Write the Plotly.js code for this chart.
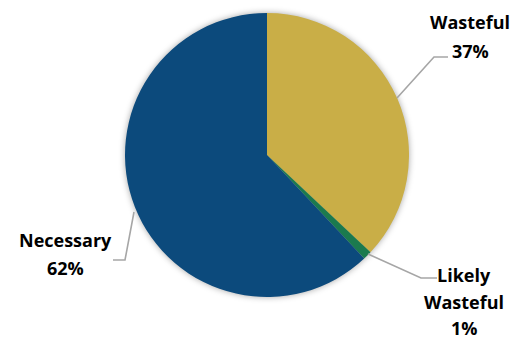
<!DOCTYPE html>
<html>
<head>
<meta charset="utf-8">
<script src="https://cdn.plot.ly/plotly-3.0.1.min.js"></script>
<style>
html,body{margin:0;padding:0;background:#fff;}
#chart{width:526px;height:339px;}
.pielayer{filter:drop-shadow(0px 0px 3px rgba(0,0,0,0.35));}
</style>
</head>
<body>
<div id="chart"></div>
<script>
// Data
const categories = ['Wasteful', 'Likely Wasteful', 'Necessary'];
const values = [37, 1, 62];
const colors = ['#C9AE47', '#1B7A4E', '#0C4A7C'];

// Label layout (pixel positions of the text lines and leader lines)
const labelLayout = [
  {lines: ['Wasteful'], x: 470, y0: 22, gap: 28.5, leader: [[397, 98], [434, 57], [448, 57]]},
  {lines: ['Likely', 'Wasteful'], x: 464, y0: 275, gap: 26.5, leader: [[368, 254], [421, 278], [437, 278]]},
  {lines: ['Necessary'], x: 65, y0: 240, gap: 28, leader: [[134, 212], [125, 260], [113, 260]]}
];

const total = values.reduce((a, b) => a + b, 0);
const annotations = [];
const shapes = [];
categories.forEach((cat, i) => {
  const L = labelLayout[i];
  const textLines = L.lines.concat([Math.round(values[i] / total * 100) + '%']);
  textLines.forEach((t, k) => {
    annotations.push({
      xref: 'x', yref: 'y', x: L.x, y: L.y0 + k * L.gap,
      text: '<b>' + t + '</b>', showarrow: false,
      xanchor: 'center', yanchor: 'middle', borderpad: 0,
      font: {family: 'Open Sans, Lato, sans-serif', size: 18, color: '#000'}
    });
  });
  const p = L.leader;
  shapes.push({
    type: 'path', xref: 'x', yref: 'y',
    path: 'M' + p.map(q => q[0] + ',' + q[1]).join(' L'),
    line: {color: '#A6A6A6', width: 1.6}
  });
});

const W = 526, H = 339;
const cx = 267, cy = 155, r = 142;

const trace = {
  type: 'pie',
  labels: categories,
  values: values,
  sort: false,
  direction: 'clockwise',
  rotation: 0,
  marker: {colors: colors, line: {width: 0}},
  textinfo: 'none',
  hoverinfo: 'label+percent',
  showlegend: false,
  domain: {x: [(cx - r) / W, (cx + r) / W], y: [(H - cy - r) / H, (H - cy + r) / H]}
};

const layout = {
  width: W, height: H,
  margin: {l: 0, r: 0, t: 0, b: 0},
  paper_bgcolor: '#fff', plot_bgcolor: 'rgba(0,0,0,0)',
  showlegend: false,
  xaxis: {range: [0, W], visible: false, fixedrange: true},
  yaxis: {range: [H, 0], visible: false, fixedrange: true},
  annotations: annotations,
  shapes: shapes
};

Plotly.newPlot('chart', [trace], layout, {displayModeBar: false, staticPlot: true});
</script>
</body>
</html>
